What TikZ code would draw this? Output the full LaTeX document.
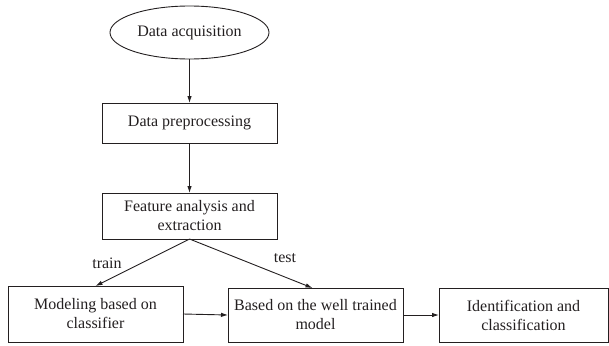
\documentclass[tikz,border=0pt]{standalone}
\usepackage{fontspec}
\setmainfont{Liberation Serif}
\usetikzlibrary{shapes.geometric,arrows.meta}
\definecolor{ink}{HTML}{231F20}
\begin{document}
\begin{tikzpicture}[x=1pt,y=-1pt,
  every node/.style={font=\fontsize{16}{19}\selectfont, text=ink, inner sep=0pt, outer sep=0pt},
  box/.style={draw=ink, line width=0.9pt, rectangle, align=center},
  oval/.style={draw=ink, line width=0.9pt, ellipse},
  conn/.style={draw=ink, line width=0.9pt, -{Latex[length=7pt,width=4.5pt]}},
  lbl/.style={}]
\useasboundingbox (0,0) rectangle (609,345);
\node[oval, minimum width=159pt, minimum height=53pt] (acq) at (189.5,32.5) {Data acquisition};
\node[box, minimum width=175pt, minimum height=40pt] (pre) at (189.5,123) {Data preprocessing};
\node[box, minimum width=175pt, minimum height=46pt] (feat) at (189.5,216) {Feature analysis and\\extraction};
\node[box, minimum width=175pt, minimum height=56pt] (model) at (95.5,314) {Modeling based on\\classifier};
\node[box, minimum width=175pt, minimum height=54pt] (based) at (315.5,315) {Based on the well trained\\model};
\node[box, minimum width=169pt, minimum height=54pt] (ident) at (523.5,315) {Identification and\\classification};
\draw[conn] (acq) -- (pre);
\draw[conn] (pre) -- (feat);
\draw[conn] (feat.south) -- (model.north);
\draw[conn] (feat.south) -- ([xshift=-3pt]based.north);
\draw[conn] (model.east) -- (based.west);
\draw[conn] (based.east) -- (ident.west);
\node[lbl] (train) at (107,263) {train};
\node[lbl] (test) at (285,258) {test};
\end{tikzpicture}
\end{document}
